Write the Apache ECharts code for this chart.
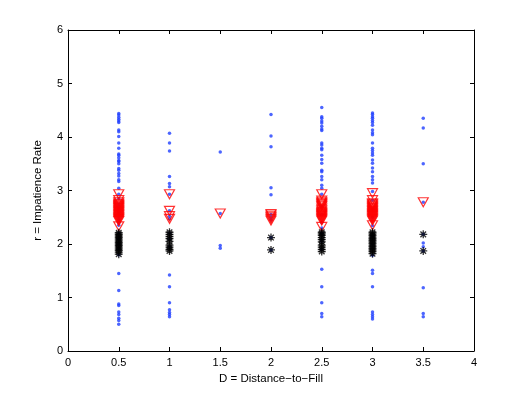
<!DOCTYPE html>
<html>
<head>
    <meta charset="utf-8">
    <title>Impatience Rate</title>
    <script src="https://cdn.jsdelivr.net/npm/echarts@6/dist/echarts.min.js"></script>
</head>
<body style="margin:0">

    <div id="main" style="width: 524px;height:394px;"></div>
    <script type="text/javascript">
    // distances (x) and the r values found at each one
    var distances = [0.5, 1, 1.5, 2, 2.5, 3, 3.5];

    var blueR = [
        [4.44, 4.41, 4.37, 4.33, 4.30, 4.27, 4.13, 4.10, 4.01, 3.89, 3.79, 3.68, 3.66, 3.61, 3.56, 3.54, 3.50, 3.41, 3.38, 3.32, 3.27, 3.20, 3.17, 3.04, 2.93, 2.85, 2.75, 2.70, 2.65, 2.60, 2.55, 2.50, 2.45, 2.40, 2.35, 2.20, 2.10, 2.00, 1.90, 1.80, 1.45, 1.13, 0.88, 0.85, 0.73, 0.68, 0.61, 0.57, 0.50],
        [4.07, 3.89, 3.74, 3.26, 3.13, 3.07, 2.93, 2.62, 2.52, 2.47, 2.20, 2.10, 1.95, 1.42, 1.20, 0.90, 0.77, 0.72, 0.68, 0.64],
        [3.72, 2.57, 1.97, 1.92],
        [4.42, 4.02, 3.82, 3.05, 2.92, 2.55, 2.50, 2.45, 2.12, 1.89],
        [4.55, 4.38, 4.35, 4.30, 4.26, 4.20, 4.15, 4.12, 3.89, 3.85, 3.79, 3.76, 3.66, 3.58, 3.51, 3.38, 3.35, 3.26, 3.20, 3.10, 3.04, 2.93, 2.70, 2.55, 2.40, 2.30, 2.20, 2.05, 1.90, 1.53, 1.20, 0.90, 0.70, 0.64],
        [4.45, 4.42, 4.38, 4.35, 4.31, 4.27, 4.22, 4.13, 4.08, 4.04, 3.89, 3.79, 3.75, 3.70, 3.66, 3.57, 3.51, 3.42, 3.35, 3.26, 3.20, 3.14, 2.98, 2.82, 2.65, 2.50, 2.34, 2.15, 2.00, 1.79, 1.51, 1.45, 1.20, 0.73, 0.68, 0.64, 0.60],
        [4.35, 4.17, 3.50, 2.78, 2.18, 2.02, 1.95, 1.87, 1.18, 0.70, 0.64]
    ];

    var redR = [
        [2.93, 2.82, 2.78, 2.75, 2.73, 2.71, 2.69, 2.67, 2.65, 2.63, 2.61, 2.59, 2.57, 2.55, 2.53, 2.51, 2.49, 2.47, 2.45, 2.43, 2.33],
        [2.93, 2.62, 2.52, 2.47],
        [2.57],
        [2.56, 2.53, 2.50, 2.47, 2.44],
        [2.93, 2.81, 2.78, 2.76, 2.74, 2.72, 2.70, 2.66, 2.63, 2.60, 2.58, 2.56, 2.54, 2.52, 2.50, 2.48, 2.46, 2.44, 2.32],
        [2.95, 2.82, 2.76, 2.74, 2.72, 2.70, 2.68, 2.66, 2.64, 2.62, 2.60, 2.58, 2.56, 2.54, 2.52, 2.50, 2.48, 2.46, 2.44, 2.35],
        [2.78]
    ];

    var blackR = [
        [2.21, 2.18, 2.15, 2.12, 2.09, 2.06, 2.03, 2.00, 1.97, 1.94, 1.91, 1.88, 1.85, 1.81],
        [2.22, 2.18, 2.14, 2.10, 2.05, 1.98, 1.94, 1.90, 1.87],
        [],
        [2.12, 1.89],
        [2.22, 2.19, 2.16, 2.12, 2.08, 2.04, 1.98, 1.94, 1.90, 1.86],
        [2.22, 2.19, 2.16, 2.13, 2.10, 2.07, 2.04, 2.01, 1.98, 1.95, 1.92, 1.89, 1.86, 1.82],
        [2.18, 1.87]
    ];

    var xTicks = [0, 0.5, 1, 1.5, 2, 2.5, 3, 3.5, 4];

    function pairs(vals) {
        var out = [];
        for (var i = 0; i < distances.length; i++) {
            for (var j = 0; j < vals[i].length; j++) {
                out.push([distances[i], vals[i][j]]);
            }
        }
        return out;
    }

    var font = 'Liberation Sans, Arial, sans-serif';
    var asterisk = 'path://M0,5L10,5M5,0L5,10M1.5,1.5L8.5,8.5M1.5,8.5L8.5,1.5';

    function xAx(pos, labels) {
        return {
            type: 'value', min: 0, max: 4, interval: 0.5, position: pos,
            splitLine: { show: false },
            axisLine: { show: true, onZero: false, lineStyle: { color: '#000', width: 1 } },
            axisTick: { show: true, inside: true, length: 4, lineStyle: { color: '#000' } },
            axisLabel: {
                show: labels, color: '#000', fontFamily: font, fontSize: 11, margin: 6,
                formatter: function (v) { return xTicks.indexOf(v) >= 0 ? String(v) : ''; }
            }
        };
    }
    function yAx(pos, labels) {
        return {
            type: 'value', min: 0, max: 6, interval: 1, position: pos,
            splitLine: { show: false },
            axisLine: { show: true, onZero: false, lineStyle: { color: '#000', width: 1 } },
            axisTick: { show: true, inside: true, length: 4, lineStyle: { color: '#000' } },
            axisLabel: { show: labels, color: '#000', fontFamily: font, fontSize: 11, margin: 5 }
        };
    }

    var myChart = echarts.init(document.getElementById('main'));
    var xa = xAx('bottom', true);
    xa.name = 'D = Distance\u2212to\u2212Fill';
    xa.nameLocation = 'middle';
    xa.nameGap = 14;
    xa.nameTextStyle = { color: '#000', fontFamily: font, fontSize: 11.5 };
    var ya = yAx('left', true);
    ya.name = 'r = Impatience Rate';
    ya.nameLocation = 'middle';
    ya.nameGap = 24;
    ya.nameTextStyle = { color: '#000', fontFamily: font, fontSize: 11.5 };

    var option = {
        animation: false,
        backgroundColor: '#fff',
        grid: { left: 68, right: 50, top: 30, bottom: 43 },
        xAxis: [xa, xAx('top', false)],
        yAxis: [ya, yAx('right', false)],
        series: [
            {
                type: 'scatter', silent: true,
                data: pairs(blueR),
                symbol: 'circle', symbolSize: 3.5,
                itemStyle: { color: '#1f3fff' }
            },
            {
                type: 'scatter', silent: true,
                data: pairs(redR),
                symbol: 'triangle', symbolRotate: 180, symbolSize: [10, 9],
                itemStyle: { color: 'rgba(0,0,0,0)', borderColor: '#ff0000', borderWidth: 1.2 }
            },
            {
                type: 'scatter', silent: true,
                data: pairs(blackR),
                symbol: asterisk, symbolSize: 8,
                itemStyle: { color: 'rgba(0,0,0,0)', borderColor: '#000', borderWidth: 1.3 }
            }
        ]
    };
    myChart.setOption(option);
    </script>
</body>
</html>
